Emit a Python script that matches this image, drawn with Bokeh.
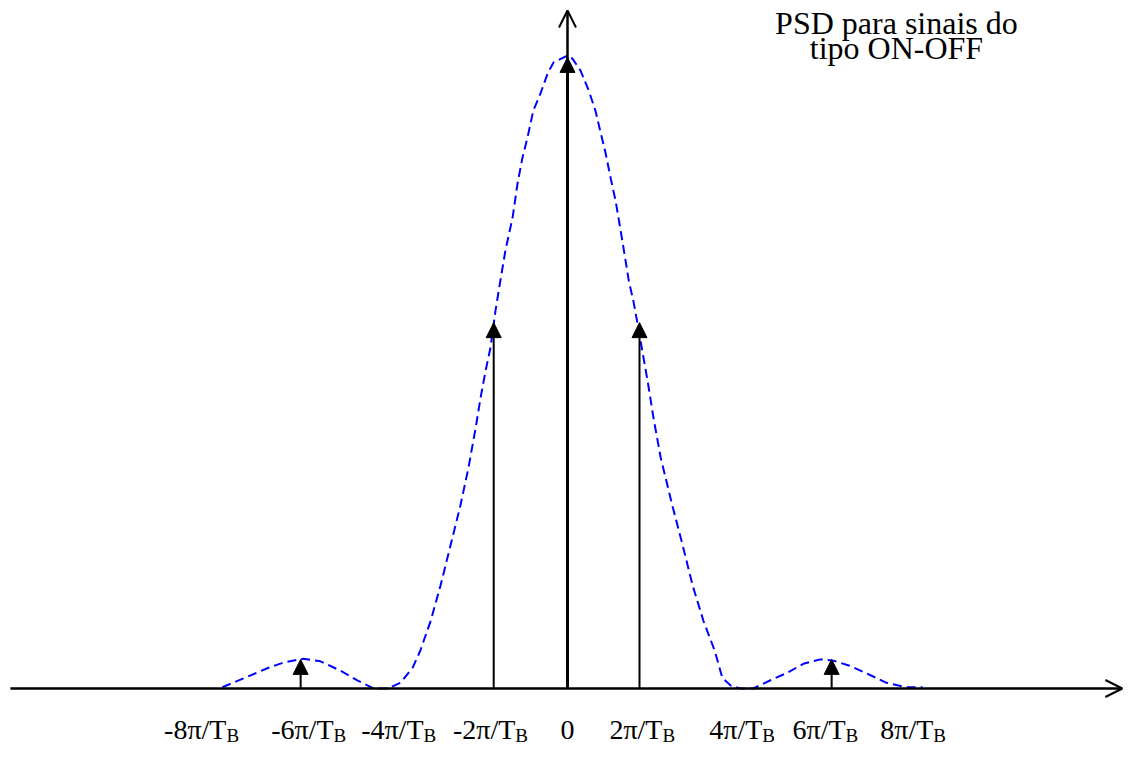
from bokeh.plotting import figure
from bokeh.models import Range1d, Arrow, NormalHead, OpenHead
from bokeh.core.properties import value
from bokeh.embed import file_html
from bokeh.resources import INLINE

# ---- data (x in units of pi/T_B as drawn, y = PSD normalised to the peak) ----
curve_x = [-7.67, -7.20, -6.67, -6.31, -5.87, -5.49, -5.04, -4.67, -4.31, -4.00,
           -3.71, -3.44, -3.27, -3.04, -2.82, -2.60, -2.38, -2.20, -2.04, -1.93,
           -1.82, -1.71, -1.60, -1.49, -1.38, -1.22, -1.11, -1.00, -0.89, -0.76,
           -0.60, -0.44, -0.31, 0.00,
           0.11, 0.29, 0.47, 0.62, 0.73, 0.84, 0.96, 1.07, 1.18, 1.29,
           1.36, 1.47, 1.56, 1.67, 1.78, 1.91, 2.07, 2.33, 2.56, 2.78,
           3.02, 3.27, 3.44, 3.62, 3.84, 4.13, 4.51, 4.89, 5.24, 5.62,
           5.91, 6.27, 6.64, 7.09, 7.53, 7.89]
curve_y = [0.002, 0.016, 0.032, 0.041, 0.047, 0.043, 0.028, 0.013, 0.000, 0.000,
           0.009, 0.033, 0.060, 0.107, 0.163, 0.226, 0.289, 0.349, 0.412, 0.460,
           0.502, 0.539, 0.597, 0.645, 0.692, 0.744, 0.798, 0.839, 0.870, 0.913,
           0.940, 0.972, 0.989, 1.000,
           0.995, 0.976, 0.945, 0.913, 0.880, 0.848, 0.806, 0.770, 0.724, 0.676,
           0.645, 0.610, 0.575, 0.530, 0.486, 0.428, 0.365, 0.289, 0.226, 0.163,
           0.107, 0.060, 0.017, 0.005, 0.000, 0.000, 0.013, 0.025, 0.039, 0.046,
           0.044, 0.036, 0.024, 0.009, 0.002, 0.002]

impulse_x = [-5.93, -1.64, 0.00, 1.60, 5.87]
impulse_h = [0.046, 0.578, 0.997, 0.578, 0.046]
impulse_w = [2, 2, 3, 2, 2]

tick_pos = [-7.58, -5.20, -3.20, -1.16, 0.00, 2.11, 4.33, 6.18, 8.13]
tick_labels = ["-8π/T_B", "-6π/T_B", "-4π/T_B", "-2π/T_B", "0",
               "2π/T_B", "4π/T_B", "6π/T_B", "8π/T_B"]

title_lines = ["PSD para sinais do", "tipo ON-OFF"]
title_x = 7.31
title_y = [1.0506, 1.0111]

# ---- figure ----
p = figure(width=1125, height=748, output_backend="svg", toolbar_location=None,
           x_range=Range1d(-567 / 45, 558 / 45), y_range=Range1d(-60 / 633, 688 / 633),
           x_axis_type=None, y_axis_type=None, min_border=0)
p.grid.visible = False
p.outline_line_color = None
p.background_fill_color = "white"
p.border_fill_color = "white"

FONT = value("Liberation Serif")

# axes with open arrow heads
p.add_layout(Arrow(end=OpenHead(size=17, line_width=2, line_color="black"),
                   x_start=-12.38, y_start=0, x_end=12.33, y_end=0,
                   line_width=2.5, line_color="black"))
p.add_layout(Arrow(end=OpenHead(size=17, line_width=2, line_color="black"),
                   x_start=0, y_start=0, x_end=0, y_end=1.071,
                   line_width=2.5, line_color="black"))

# PSD curve
p.line(curve_x, curve_y, line_color="#0000FF", line_width=2, line_dash="9 5")

# impulses
for xi, hi, wi in zip(impulse_x, impulse_h, impulse_w):
    p.add_layout(Arrow(end=NormalHead(size=15, fill_color="black", line_color="black",
                                      line_width=1),
                       x_start=xi, y_start=0, x_end=xi, y_end=hi,
                       line_width=wi, line_color="black"))

# tick labels with subscript B
main_x, main_t, sub_x, sub_t = [], [], [], []
for pos, lab in zip(tick_pos, tick_labels):
    if "_" in lab:
        m, s = lab.split("_")
        main_x.append(pos); main_t.append(m)
        sub_x.append(pos); sub_t.append(s)
zero_idx = tick_labels.index("0")

MAIN_Y = -41 / 633
SUB_Y = -47.4 / 633
p.text(x=main_x, y=[MAIN_Y] * len(main_x), text=main_t, text_font=FONT,
       text_font_size="28px", text_align="right", text_baseline="alphabetic",
       text_color="black")
p.text(x=sub_x, y=[SUB_Y] * len(sub_x), text=sub_t, text_font=FONT,
       text_font_size="19px", text_align="left", text_baseline="alphabetic",
       text_color="black")
p.text(x=[tick_pos[zero_idx]], y=[MAIN_Y], text=[tick_labels[zero_idx]], text_font=FONT,
       text_font_size="28px", text_align="center", text_baseline="alphabetic",
       text_color="black")

# title
p.text(x=[title_x] * 2, y=title_y, text=title_lines, text_font=FONT,
       text_font_size="32px", text_align="center", text_baseline="alphabetic",
       text_color="black")

open("out.html", "w").write(file_html(p, INLINE))
